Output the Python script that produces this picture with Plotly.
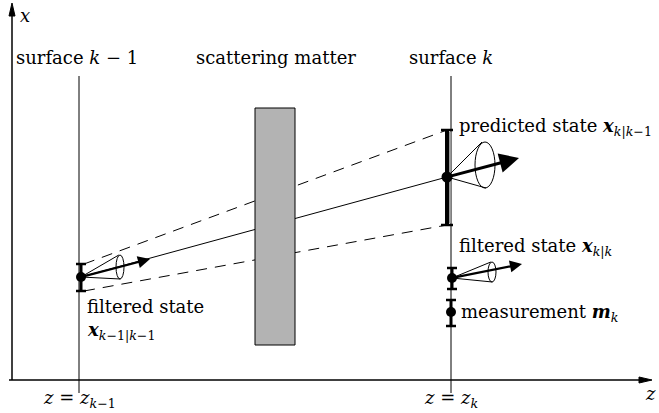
import plotly.graph_objects as go

W, H = 659, 413
FONT = "DejaVu Serif"

# ---- geometry of the diagram (pixel-like coordinates, x right, y down) ----
axis_origin = [12, 380]
axis_top = 3
axis_right = 652
surface_z = [79, 451]
surface_top = 76
surface_bottom = 393
matter_box = [255, 295, 108, 345]          # z0, z1, x0, x1

# states: filtered k-1, predicted k, filtered k, measurement k
state_z = [81, 447, 452, 451]
state_x = [277, 177, 278, 312]
err_lo = [264, 130, 268, 300]
err_hi = [291, 225, 289, 326]
err_width = [3, 4, 3, 3]
cap_half = [5, 6, 5, 5]
dot_size = [10, 11, 10, 10]

# direction arrows + cones (first three states)
dir_end_z = [150, 519, 522]
dir_end_x = [259, 158, 264]
cone_cz = [120, 485, 492]
cone_cx = [267, 165, 272]
cone_rz = [4, 10, 4]
cone_rx = [12, 23, 10]

# labels
labels_top = ["surface <i>k</i> − 1", "scattering matter", "surface <i>k</i>"]
labels_top_z = [77, 276, 451]
labels_bottom = ["<i>z</i> = <i>z</i><sub><i>k</i>−1</sub>", "<i>z</i> = <i>z</i><sub><i>k</i></sub>"]

fig = go.Figure()
shapes = []
def line(x0, y0, x1, y1, w=1, color="black", dash=None):
    d = dict(type="line", x0=x0, y0=y0, x1=x1, y1=y1, xref="x", yref="y",
             line=dict(color=color, width=w), layer="below")
    if dash:
        d["line"]["dash"] = dash
    shapes.append(d)

# surfaces
for z in surface_z:
    line(z, surface_top, z, surface_bottom, 1)

# dashed envelope and solid trajectory
line(state_z[0] + 3, err_lo[0], state_z[1], err_lo[1], 1, dash="11px,8px")
line(state_z[0] + 3, err_hi[0], state_z[1], err_hi[1], 1, dash="11px,8px")
line(state_z[0], state_x[0], state_z[1], state_x[1], 1)

# scattering matter
shapes.append(dict(type="rect", x0=matter_box[0], x1=matter_box[1], y0=matter_box[2], y1=matter_box[3],
                   xref="x", yref="y", fillcolor="#b3b3b3", line=dict(color="black", width=1), layer="below"))

# cones
for i in range(3):
    cz, cx, rz, rx = cone_cz[i], cone_cx[i], cone_rz[i], cone_rx[i]
    line(state_z[i], state_x[i], cz - rz * 0.3, cx - rx, 1)
    line(state_z[i], state_x[i], cz + rz * 0.1, cx + rx, 1)
    shapes.append(dict(type="circle", x0=cz - rz, x1=cz + rz, y0=cx - rx, y1=cx + rx,
                       xref="x", yref="y", line=dict(color="black", width=1), layer="below"))

# error bars
for i in range(4):
    z = state_z[i]
    line(z, err_lo[i], z, err_hi[i], err_width[i])
    line(z - cap_half[i], err_lo[i], z + cap_half[i], err_lo[i], 2.5)
    line(z - cap_half[i], err_hi[i], z + cap_half[i], err_hi[i], 2.5)
# gray stripe on predicted error bar
line(state_z[1] + 3, err_lo[1] + 2, state_z[1] + 3, err_hi[1] - 2, 2, color="#999999")

# axes
line(axis_origin[0], axis_origin[1], axis_origin[0], axis_top + 10, 1.5)
line(axis_origin[0] - 3, axis_origin[1], axis_right - 10, axis_origin[1], 1.5)
shapes.append(dict(type="path", path=f"M {axis_origin[0]-3} {axis_top+13} L {axis_origin[0]} {axis_top} L {axis_origin[0]+3} {axis_top+13} Z",
                   fillcolor="black", line=dict(color="black", width=1), xref="x", yref="y", layer="below"))
shapes.append(dict(type="path", path=f"M {axis_right-13} {axis_origin[1]-3} L {axis_right} {axis_origin[1]} L {axis_right-13} {axis_origin[1]+3} Z",
                   fillcolor="black", line=dict(color="black", width=1), xref="x", yref="y", layer="below"))

# dots
fig.add_trace(go.Scatter(x=state_z, y=state_x, mode="markers",
                         marker=dict(color="black", size=dot_size, opacity=1, line=dict(width=0)),
                         hoverinfo="skip", showlegend=False))

ann = []
# direction arrows
for i in range(3):
    ann.append(dict(x=dir_end_z[i], y=dir_end_x[i], ax=state_z[i], ay=state_x[i],
                    xref="x", yref="y", axref="x", ayref="y", showarrow=True,
                    arrowhead=2, arrowsize=1.3 if i == 1 else 1.1, arrowwidth=3 if i == 1 else 2.2,
                    arrowcolor="black", text=""))

def text(x, y, t, anchor="left", size=18):
    ann.append(dict(x=x, y=y, xref="x", yref="y", text=t, showarrow=False,
                    xanchor=anchor, yanchor="middle", font=dict(family=FONT, size=size, color="black")))

for t, z in zip(labels_top, labels_top_z):
    text(z, 57, t, "center")
for t, z in zip(labels_bottom, surface_z):
    text(z, 399, t, "center")
text(18, 15, "<i>x</i>")
text(643, 393, "<i>z</i>")
text(457, 127, "predicted state <b><i>x</i></b><sub><i>k</i>|<i>k</i>−1</sub>")
text(457, 247, "filtered state <b><i>x</i></b><sub><i>k</i>|<i>k</i></sub>")
text(459, 313, "measurement <b><i>m</i></b><sub><i>k</i></sub>")
text(85, 306, "filtered state")
text(85, 331, "<b><i>x</i></b><sub><i>k</i>−1|<i>k</i>−1</sub>")

fig.update_layout(
    width=W, height=H, margin=dict(l=0, r=0, t=0, b=0),
    paper_bgcolor="white", plot_bgcolor="white",
    xaxis=dict(range=[0, W], visible=False, fixedrange=True),
    yaxis=dict(range=[H, 0], visible=False, fixedrange=True),
    shapes=shapes, annotations=ann, showlegend=False,
)
fig.write_html("out.html", config={"displayModeBar": False, "staticPlot": True},
               post_script="document.body.style.margin='0px';document.body.style.overflow='hidden';")
